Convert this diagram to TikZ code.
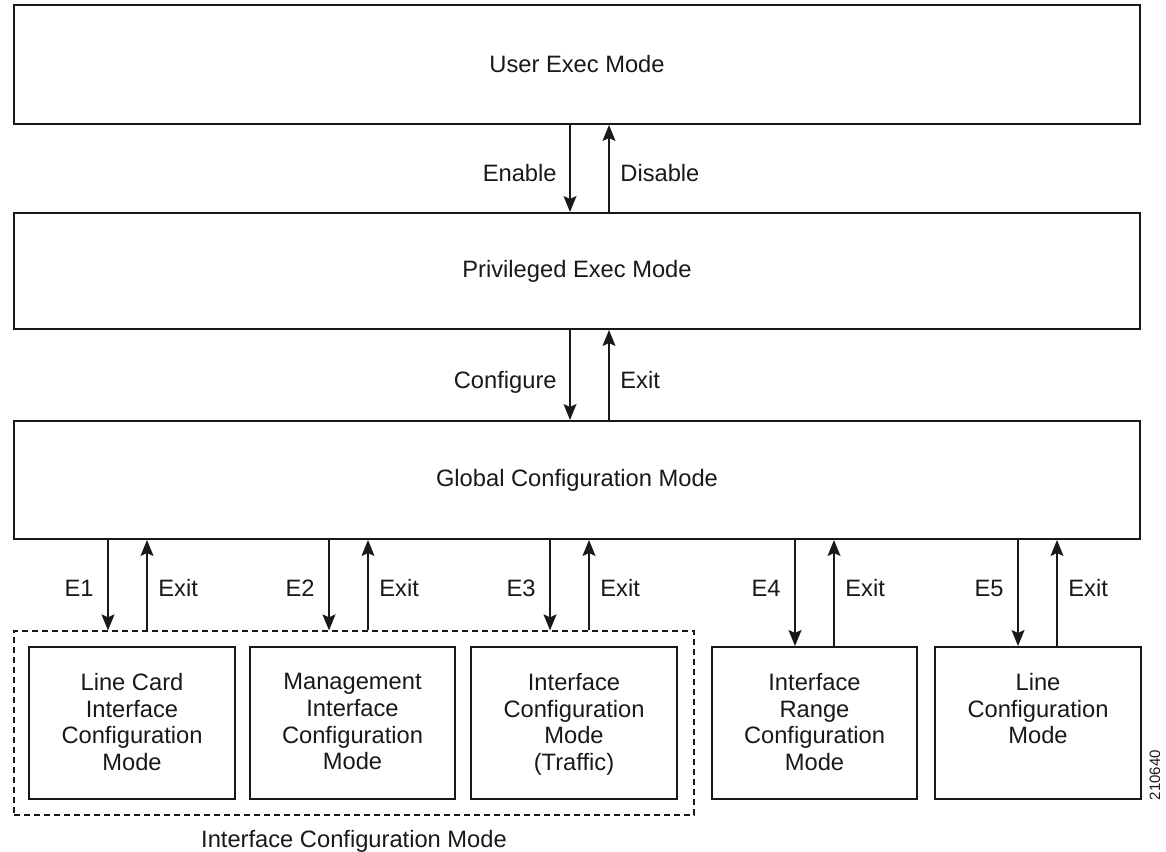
\documentclass[tikz,border=0pt]{standalone}
\usepackage{fontspec}
\setmainfont{Liberation Sans}
\usetikzlibrary{arrows.meta}
\begin{document}
\begin{tikzpicture}[x=0.5pt,y=-0.5pt,
  modebox/.style={draw=black!90, line width=1pt, rectangle, inner sep=0pt, text=black!90,
    font=\fontsize{11.85pt}{13.33pt}\selectfont},
  subbox/.style={modebox, minimum width=102.75pt, minimum height=76pt},
  boxtxt/.style={align=center, anchor=north, inner sep=0pt, text=black!90,
    font=\fontsize{11.85pt}{13.33pt}\selectfont},
  lbl/.style={inner sep=0pt, text=black!90, font=\fontsize{11.85pt}{13.33pt}\selectfont},
  arr/.style={draw=black!90, line width=0.65pt, -{Stealth[length=8pt,width=6.5pt,inset=1.5pt]}},
  grpbox/.style={draw=black!90, line width=0.65pt, dash pattern=on 3pt off 2pt, rectangle,
    minimum width=340pt, minimum height=92pt, inner sep=0pt}
]
\useasboundingbox[fill=white] (0,0) rectangle (1166,851);

% main mode boxes
\node[modebox, minimum width=563pt, minimum height=59.5pt] (user) at (577,64.5) {User Exec Mode};
\node[modebox, minimum width=563pt, minimum height=58pt] (priv) at (577,271) {Privileged Exec Mode};
\node[modebox, minimum width=563pt, minimum height=59pt] (glob) at (577,480) {Global Configuration Mode};

% group
\node[grpbox] (grp) at (354,723) {};
\node[lbl, anchor=base] (grplbl) at (354,847) {Interface Configuration Mode};

% sub boxes
\node[subbox] (b1) at (132,723) {};
\node[subbox] (b2) at (352.5,723) {};
\node[subbox] (b3) at (574,723) {};
\node[subbox] (b4) at (814.5,723) {};
\node[subbox] (b5) at (1038,723) {};
\node[boxtxt] (t1) at (132,673) {Line Card\\Interface\\Configuration\\Mode};
\node[boxtxt] (t2) at (352.5,673) {Management\\Interface\\Configuration\\Mode};
\node[boxtxt] (t3) at (574,673) {Interface\\Configuration\\Mode\\(Traffic)};
\node[boxtxt] (t4) at (814.5,673) {Interface\\Range\\Configuration\\Mode};
\node[boxtxt] (t5) at (1038,673) {Line\\Configuration\\Mode};

% arrow x positions
\coordinate (dn0) at (570,0);
\coordinate (up0) at (609,0);
\coordinate (dn1) at (108,0);  \coordinate (up1) at (147,0);
\coordinate (dn2) at (329,0);  \coordinate (up2) at (368,0);
\coordinate (dn3) at (550,0);  \coordinate (up3) at (589,0);
\coordinate (dn4) at (795,0);  \coordinate (up4) at (834,0);
\coordinate (dn5) at (1018,0); \coordinate (up5) at (1057,0);

% connectors
\draw[arr] (user.south -| dn0) -- (priv.north -| dn0);
\draw[arr] (priv.north -| up0) -- (user.south -| up0);
\draw[arr] (priv.south -| dn0) -- (glob.north -| dn0);
\draw[arr] (glob.north -| up0) -- (priv.south -| up0);

\draw[arr] (glob.south -| dn1) -- (grp.north -| dn1);
\draw[arr] (grp.north -| up1) -- (glob.south -| up1);
\draw[arr] (glob.south -| dn2) -- (grp.north -| dn2);
\draw[arr] (grp.north -| up2) -- (glob.south -| up2);
\draw[arr] (glob.south -| dn3) -- (grp.north -| dn3);
\draw[arr] (grp.north -| up3) -- (glob.south -| up3);
\draw[arr] (glob.south -| dn4) -- (b4.north -| dn4);
\draw[arr] (b4.north -| up4) -- (glob.south -| up4);
\draw[arr] (glob.south -| dn5) -- (b5.north -| dn5);
\draw[arr] (b5.north -| up5) -- (glob.south -| up5);

% labels
\node[lbl, anchor=base east] (lenable) at (557,181) {Enable};
\node[lbl, anchor=base west] (ldisable) at (620,181) {Disable};
\node[lbl, anchor=base east] (lconf) at (557,388.5) {Configure};
\node[lbl, anchor=base west] (lexit0) at (620,388.5) {Exit};

\node[lbl, anchor=base east] (le1) at (94,596.5) {E1};
\node[lbl, anchor=base west] (lx1) at (158,596.5) {Exit};
\node[lbl, anchor=base east] (le2) at (315,596.5) {E2};
\node[lbl, anchor=base west] (lx2) at (379,596.5) {Exit};
\node[lbl, anchor=base east] (le3) at (536,596.5) {E3};
\node[lbl, anchor=base west] (lx3) at (600,596.5) {Exit};
\node[lbl, anchor=base east] (le4) at (781,596.5) {E4};
\node[lbl, anchor=base west] (lx4) at (845,596.5) {Exit};
\node[lbl, anchor=base east] (le5) at (1004,596.5) {E5};
\node[lbl, anchor=base west] (lx5) at (1068,596.5) {Exit};

\node[rotate=90, inner sep=0pt, text=black!90, font=\fontsize{7.5pt}{9pt}\selectfont] (figid) at (1155,775) {210640};
\end{tikzpicture}
\end{document}
